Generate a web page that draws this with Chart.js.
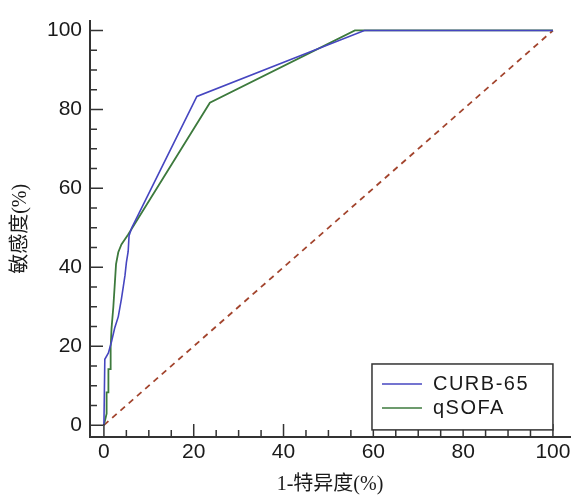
<!DOCTYPE html>
<html>
<head>
<meta charset="utf-8">
<script src="https://cdn.jsdelivr.net/npm/chart.js@4.4.1/dist/chart.umd.min.js"></script>
<style>
  html, body { margin: 0; padding: 0; background: #fff; }
  #wrap { width: 574px; height: 497px; }
</style>
</head>
<body>
<div id="wrap"><canvas id="roc"></canvas></div>
<script>
// ROC curves (x = 1-specificity %, y = sensitivity %)
var curbX = [0, 0.2, 1.0, 1.7, 2.4, 3.2, 3.9, 4.3, 4.7, 5.0, 5.4, 5.6, 6.2, 20.7, 58, 100];
var curbY = [0, 16.7, 18.3, 21.2, 24.6, 27.5, 32, 35, 38, 41.2, 44, 48, 50, 83.3, 100, 100];
var qsofaX = [0, 0.6, 0.6, 1.0, 1.0, 1.5, 1.5, 1.7, 2.1, 2.4, 2.7, 3.2, 3.9, 5.4, 23.6, 55.9, 100];
var qsofaY = [0, 2.9, 8.3, 8.3, 14.2, 14.2, 19.6, 24.6, 30, 35.4, 40.8, 43.8, 45.8, 48.3, 81.7, 100, 100];
var refX = [0, 100];
var refY = [0, 100];
var seriesNames = ['CURB-65', 'qSOFA'];
var xTicks = [0, 20, 40, 60, 80, 100];
var yTicks = [0, 20, 40, 60, 80, 100];

var curb_color = '#4646c0';
var qsofa_color = '#3d7a3d';
var ref_color = '#a3452e';
var axis_color = '#333333';

function toPoints(xs, ys) {
    var pts = [];
    for (var i = 0; i < xs.length; i++) {
        pts.push({x: xs[i], y: ys[i]});
    }
    return pts;
}

// ticks drawn inward from the spines, major every 20 and minor every 5
var innerTicks = {
    id: 'innerTicks',
    afterDatasetsDraw: function(chart) {
        var ctx = chart.ctx;
        var xs = chart.scales.x, ys = chart.scales.y;
        var area = chart.chartArea;
        ctx.save();
        ctx.strokeStyle = axis_color;
        ctx.lineWidth = 1.5;
        ctx.beginPath();
        for (var v = 0; v <= 100; v += 5) {
            var len = (v % 20 === 0) ? 13 : 7;
            var px = xs.getPixelForValue(v);
            ctx.moveTo(px, area.bottom);
            ctx.lineTo(px, area.bottom - len);
            var py = ys.getPixelForValue(v);
            ctx.moveTo(area.left, py);
            ctx.lineTo(area.left + len, py);
        }
        ctx.stroke();
        ctx.restore();
    }
};

// boxed legend in the lower right corner
var boxLegend = {
    id: 'boxLegend',
    afterDraw: function(chart) {
        var ctx = chart.ctx;
        var xs = chart.scales.x, ys = chart.scales.y;
        var left = xs.getPixelForValue(59.7);
        var right = xs.getPixelForValue(100);
        var top = ys.getPixelForValue(15.5);
        var bottom = ys.getPixelForValue(-1.2);
        ctx.save();
        ctx.fillStyle = '#fff';
        ctx.fillRect(left, top, right - left, bottom - top);
        ctx.strokeStyle = axis_color;
        ctx.lineWidth = 1.5;
        ctx.strokeRect(left, top, right - left, bottom - top);
        ctx.font = '20px "Liberation Sans", Arial, sans-serif';
        ctx.letterSpacing = '1.5px';
        ctx.textBaseline = 'middle';
        var sets = chart.data.datasets;
        for (var i = 0; i < seriesNames.length; i++) {
            var y = top + 20 + i * 24;
            ctx.strokeStyle = sets[i].borderColor;
            ctx.lineWidth = 1.6;
            ctx.beginPath();
            ctx.moveTo(left + 10, y);
            ctx.lineTo(left + 50, y);
            ctx.stroke();
            ctx.fillStyle = '#1a1a1a';
            ctx.fillText(sets[i].label, left + 61, y + 1);
        }
        ctx.restore();
    }
};

var chartData = {
    datasets: [
        {
            label: seriesNames[0],
            data: toPoints(curbX, curbY),
            borderColor: curb_color,
            borderWidth: 1.6,
            pointRadius: 0,
            tension: 0
        },
        {
            label: seriesNames[1],
            data: toPoints(qsofaX, qsofaY),
            borderColor: qsofa_color,
            borderWidth: 1.8,
            pointRadius: 0,
            tension: 0
        },
        {
            label: 'ref',
            data: toPoints(refX, refY),
            borderColor: ref_color,
            borderWidth: 1.8,
            borderDash: [6, 5],
            pointRadius: 0,
            tension: 0
        }
    ]
};

var tickFont = {family: '"Liberation Sans", Arial, sans-serif', size: 21};
var titleFont = {family: '"Liberation Serif", "Noto Sans CJK SC", serif', size: 20};

var chartOptions = {
    responsive: true,
    maintainAspectRatio: false,
    animation: false,
    layout: {padding: {top: 15, right: 4, left: 0, bottom: 0}},
    plugins: {
        legend: {display: false},
        tooltip: {enabled: false}
    },
    scales: {
        x: {
            type: 'linear',
            min: -3.1,
            max: 103.8,
            afterFit: function(scale) { scale.height = 60; },
            afterBuildTicks: function(scale) {
                scale.ticks = xTicks.map(function(v) { return {value: v}; });
            },
            ticks: {font: tickFont, color: '#1a1a1a', padding: 3, maxRotation: 0},
            grid: {display: false, drawTicks: false},
            border: {display: true, color: axis_color, width: 2},
            title: {display: true, text: '1-特异度(%)', font: titleFont, color: '#1a1a1a', padding: {top: 0, bottom: 0}}
        },
        y: {
            type: 'linear',
            min: -3,
            max: 102.5,
            afterFit: function(scale) { scale.width = 90; },
            afterBuildTicks: function(scale) {
                scale.ticks = yTicks.map(function(v) { return {value: v}; });
            },
            ticks: {font: tickFont, color: '#1a1a1a', padding: 8},
            grid: {display: false, drawTicks: false},
            border: {display: true, color: axis_color, width: 2},
            title: {display: true, text: '敏感度(%)', font: titleFont, color: '#1a1a1a', padding: {top: 9, bottom: 0}}
        }
    }
};

var ctx = document.getElementById('roc').getContext('2d');
var rocChart = new Chart(ctx, {
    type: 'line',
    data: chartData,
    options: chartOptions,
    plugins: [innerTicks, boxLegend]
});
</script>
</body>
</html>
